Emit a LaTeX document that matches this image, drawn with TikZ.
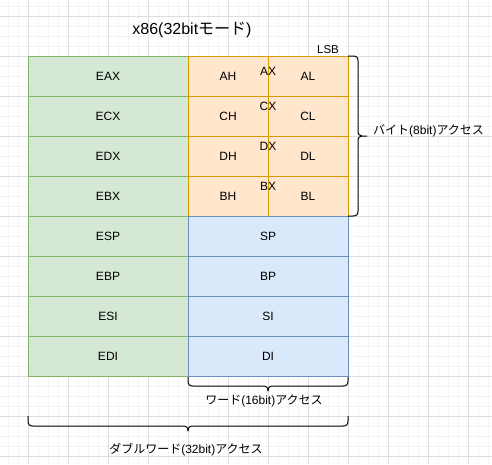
\documentclass[tikz,border=0pt]{standalone}
\usepackage{fontspec}
\setmainfont{Liberation Sans}
\newfontfamily\jp{Noto Sans CJK JP}
\definecolor{gfill}{HTML}{D5E8D4}
\definecolor{gline}{HTML}{82B366}
\definecolor{ofill}{HTML}{FFE6CC}
\definecolor{oline}{HTML}{D79B00}
\definecolor{bfill}{HTML}{DAE8FC}
\definecolor{bline}{HTML}{6C8EBF}
\definecolor{gridmajor}{HTML}{DEDEDE}
\definecolor{gridminor}{HTML}{F4F4F4}
\begin{document}
\begin{tikzpicture}[x=1pt,y=-1pt,
  cell/.style={draw, line width=1pt, minimum height=40pt, inner sep=0pt, outer sep=0pt,
    font=\fontsize{12}{14}\selectfont},
  gcell/.style={cell, fill=gfill, draw=gline, minimum width=160pt},
  bcell/.style={cell, fill=bfill, draw=bline, minimum width=160pt},
  ocell/.style={cell, fill=ofill, draw=oline, minimum width=80pt},
  lbl/.style={inner sep=0pt, font=\fontsize{12}{14}\selectfont},
  brc/.style={draw=black, line width=1pt}]
\useasboundingbox (0,0) rectangle (492,464);
\fill[white] (0,0) rectangle (492,464);
% grid
\foreach \x in {8,18,...,488} \draw[gridminor, line width=0.8pt] (\x,0) -- (\x,464);
\foreach \y in {6,16,...,456} \draw[gridminor, line width=0.8pt] (0,\y) -- (492,\y);
\foreach \x in {28,68,...,468} \draw[gridmajor, line width=0.8pt] (\x,0) -- (\x,464);
\foreach \y in {16,56,...,456} \draw[gridmajor, line width=0.8pt] (0,\y) -- (492,\y);
% title
\node[inner sep=0pt, font=\fontsize{16}{18}\selectfont] (title) at (192,30) {x86(32bit{\jp モード})};
\node[inner sep=0pt, font=\fontsize{11.5}{13}\selectfont] (lsb) at (328,50) {LSB};
% green column
\node[gcell] (eax) at (108,76) {EAX};
\node[gcell] (ecx) at (108,116) {ECX};
\node[gcell] (edx) at (108,156) {EDX};
\node[gcell] (ebx) at (108,196) {EBX};
\node[gcell] (esp) at (108,236) {ESP};
\node[gcell] (ebp) at (108,276) {EBP};
\node[gcell] (esi) at (108,316) {ESI};
\node[gcell] (edi) at (108,356) {EDI};
% orange byte registers
\node[ocell] (ah) at (228,76) {AH};
\node[ocell] (al) at (308,76) {AL};
\node[ocell] (ch) at (228,116) {CH};
\node[ocell] (cl) at (308,116) {CL};
\node[ocell] (dh) at (228,156) {DH};
\node[ocell] (dl) at (308,156) {DL};
\node[ocell] (bh) at (228,196) {BH};
\node[ocell] (bl) at (308,196) {BL};
\node[lbl] (ax) at (268,71) {AX};
\node[lbl] (cx) at (268,106) {CX};
\node[lbl] (dx) at (268,146) {DX};
\node[lbl] (bx) at (268,186) {BX};
% blue word registers
\node[bcell] (sp) at (268,236) {SP};
\node[bcell] (bp) at (268,276) {BP};
\node[bcell] (si) at (268,316) {SI};
\node[bcell] (di) at (268,356) {DI};
% right brace (byte access)
\draw[brc] (348,56) -- (353,56) .. controls (356.5,56) and (358,57.5) .. (358,61) -- (358,131)
  .. controls (358,134.5) and (359.5,136) .. (362,136) -- (367,136);
\draw[brc] (362,136) .. controls (359.5,136) and (358,137.5) .. (358,141) -- (358,211)
  .. controls (358,214.5) and (356.5,216) .. (353,216) -- (348,216);
\node[lbl, anchor=west] (bytelbl) at (373,131) {{\jp バイト}(8bit){\jp アクセス}};
% word brace
\draw[brc] (188,377) -- (188,381) .. controls (188,384.5) and (189.5,386) .. (193,386) -- (263,386)
  .. controls (266.5,386) and (268,387.5) .. (268,391);
\draw[brc] (348,377) -- (348,381) .. controls (348,384.5) and (346.5,386) .. (343,386) -- (273,386)
  .. controls (269.5,386) and (268,387.5) .. (268,391);
\node[lbl] (wordlbl) at (264,401) {{\jp ワード}(16bit){\jp アクセス}};
% dword brace
\draw[brc] (28,416) -- (28,421) .. controls (28,424.5) and (29.5,426) .. (33,426) -- (183,426)
  .. controls (186.5,426) and (188,427.5) .. (188,431);
\draw[brc] (348,416) -- (348,421) .. controls (348,424.5) and (346.5,426) .. (343,426) -- (193,426)
  .. controls (189.5,426) and (188,427.5) .. (188,431);
\node[lbl] (dwordlbl) at (186,450) {{\jp ダブルワード}(32bit){\jp アクセス}};
\end{tikzpicture}
\end{document}
